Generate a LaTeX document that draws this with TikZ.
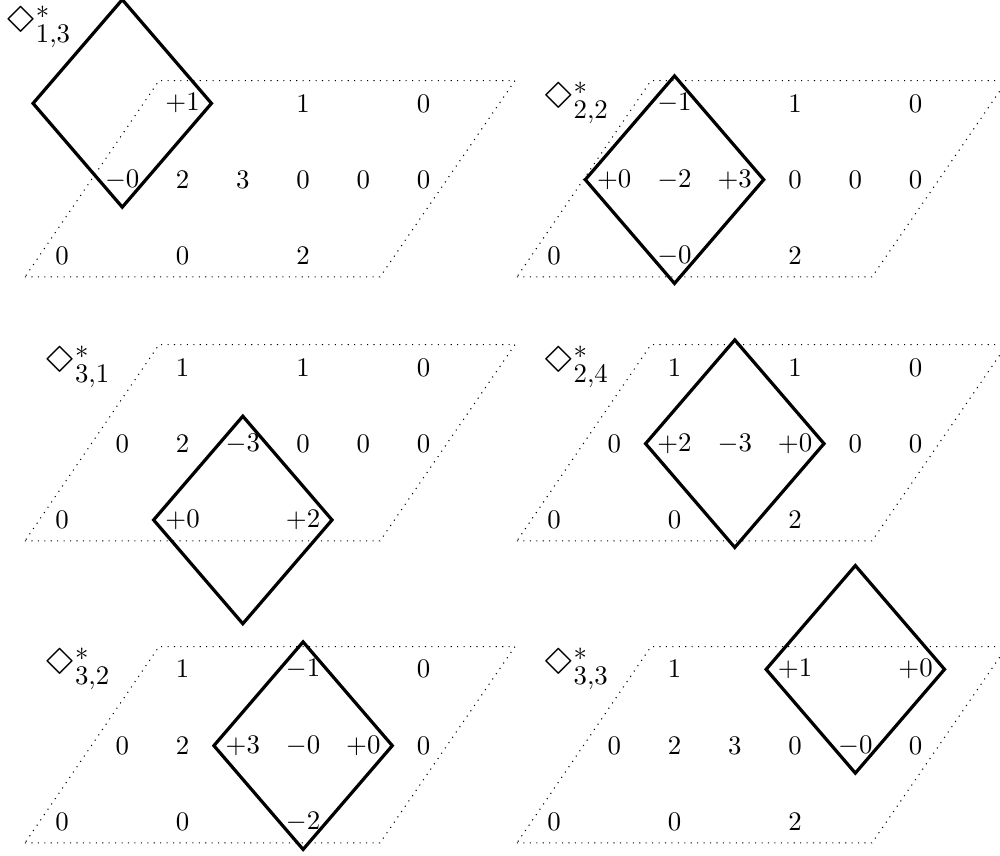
\documentclass[tikz,border=0pt]{standalone}
\usepackage{latexsym}
\tikzset{
  cell/.style={inner sep=0pt},
  frame/.style={dotted},
  tag/.style={anchor=base west, inner sep=0pt, font=\Large},
  rhombus/.pic={\draw[very thick] (-1.48,0) -- (0,1.36) -- (1.48,0) -- (0,-1.36) -- cycle;}
}

\begin{document}
\begin{tikzpicture}[x=0.79cm, y=1cm]
\useasboundingbox (-0.8126cm,-7.864cm) rectangle (12.294cm,3.355cm);

% (1,3)
\begin{scope}[name prefix=p13-]
\draw[frame] (-0.614,-0.275) -- (5.276,-0.275) -- (7.515,2.298) -- (1.609,2.298) -- cycle;
\foreach \i/\j/\v in {0/0/0, 2/0/0, 4/0/2, 1/1/-0, 2/1/2, 3/1/3, 4/1/0, 5/1/0, 6/1/0, 2/2/+1, 4/2/1, 6/2/0}
  \node[cell] (n\i\j) at (\i,\j) {$\v$};
\pic at (1,2) {rhombus};
\node[tag] (tag) at (-0.95,2.923) {$\Diamond^*_{1,3}$};
\end{scope}

% (2,2)
\begin{scope}[shift={(6.448cm,0cm)}, name prefix=p22-]
\draw[frame] (-0.614,-0.275) -- (5.276,-0.275) -- (7.515,2.298) -- (1.609,2.298) -- cycle;
\foreach \i/\j/\v in {0/0/0, 2/0/-0, 4/0/2, 1/1/+0, 2/1/-2, 3/1/+3, 4/1/0, 5/1/0, 6/1/0, 2/2/-1, 4/2/1, 6/2/0}
  \node[cell] (n\i\j) at (\i,\j) {$\v$};
\pic at (2,1) {rhombus};
\node[tag] (tag) at (-0.19,1.93) {$\Diamond^*_{2,2}$};
\end{scope}

% (3,1)
\begin{scope}[shift={(0cm,-3.46cm)}, name prefix=p31-]
\draw[frame] (-0.614,-0.275) -- (5.276,-0.275) -- (7.515,2.298) -- (1.609,2.298) -- cycle;
\foreach \i/\j/\v in {0/0/0, 2/0/+0, 4/0/+2, 1/1/0, 2/1/2, 3/1/-3, 4/1/0, 5/1/0, 6/1/0, 2/2/1, 4/2/1, 6/2/0}
  \node[cell] (n\i\j) at (\i,\j) {$\v$};
\pic at (3,0) {rhombus};
\node[tag] (tag) at (-0.3,1.93) {$\Diamond^*_{3,1}$};
\end{scope}

% (2,4)
\begin{scope}[shift={(6.448cm,-3.46cm)}, name prefix=p24-]
\draw[frame] (-0.614,-0.275) -- (5.276,-0.275) -- (7.515,2.298) -- (1.609,2.298) -- cycle;
\foreach \i/\j/\v in {0/0/0, 2/0/0, 4/0/2, 1/1/0, 2/1/+2, 3/1/-3, 4/1/+0, 5/1/0, 6/1/0, 2/2/1, 4/2/1, 6/2/0}
  \node[cell] (n\i\j) at (\i,\j) {$\v$};
\pic at (3,1) {rhombus};
\node[tag] (tag) at (-0.19,1.93) {$\Diamond^*_{2,4}$};
\end{scope}

% (3,2)
\begin{scope}[shift={(0cm,-7.418cm)}, name prefix=p32-]
\draw[frame] (-0.614,-0.275) -- (5.276,-0.275) -- (7.515,2.298) -- (1.609,2.298) -- cycle;
\foreach \i/\j/\v in {0/0/0, 2/0/0, 4/0/-2, 1/1/0, 2/1/2, 3/1/+3, 4/1/-0, 5/1/+0, 6/1/0, 2/2/1, 4/2/-1, 6/2/0}
  \node[cell] (n\i\j) at (\i,\j) {$\v$};
\pic at (4,1) {rhombus};
\node[tag] (tag) at (-0.3,1.93) {$\Diamond^*_{3,2}$};
\end{scope}

% (3,3)
\begin{scope}[shift={(6.448cm,-7.418cm)}, name prefix=p33-]
\draw[frame] (-0.614,-0.275) -- (5.276,-0.275) -- (7.515,2.298) -- (1.609,2.298) -- cycle;
\foreach \i/\j/\v in {0/0/0, 2/0/0, 4/0/2, 1/1/0, 2/1/2, 3/1/3, 4/1/0, 5/1/-0, 6/1/0, 2/2/1, 4/2/+1, 6/2/+0}
  \node[cell] (n\i\j) at (\i,\j) {$\v$};
\pic at (5,2) {rhombus};
\node[tag] (tag) at (-0.19,1.93) {$\Diamond^*_{3,3}$};
\end{scope}
\end{tikzpicture}
\end{document}
